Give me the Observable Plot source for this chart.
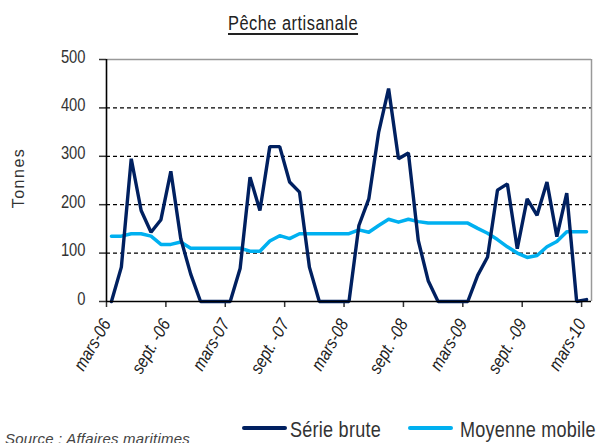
<!DOCTYPE html>
<html>
<head>
<meta charset="utf-8">
<script src="https://cdn.jsdelivr.net/npm/d3@7"></script>
<script src="https://cdn.jsdelivr.net/npm/@observablehq/plot@0.6"></script>
<style>
  html, body { margin: 0; padding: 0; background: #fff; }
  #wrap { position: relative; width: 601px; height: 443px; overflow: hidden;
          font-family: "Liberation Sans", Arial, sans-serif; color: #333; }
  .narrow { display: inline-block; transform: scaleX(0.82); transform-origin: left center; white-space: nowrap; }
  #title { position: absolute; left: 228px; top: 12px; font-size: 20px; letter-spacing: 0.6px;
           text-decoration: underline; text-underline-offset: 3px; color: #222; }
  #ylab { position: absolute; left: 19px; top: 178px; transform: translate(-50%, -50%) rotate(-90deg);
          font-size: 16px; letter-spacing: 1.5px; color: #333; white-space: nowrap; }
  .leg { position: absolute; top: 417px; font-size: 22px; color: #333; letter-spacing: 0.3px; }
  .sw { position: absolute; height: 4px; top: 426px; border-radius: 2px; }
  #src { position: absolute; left: 5px; top: 430px; font-size: 15px; font-style: italic; color: #444; white-space: nowrap; letter-spacing: 0.2px; }
  #chart { position: absolute; left: 0; top: 0; }
</style>
</head>
<body>
<div id="wrap">
  <div id="chart"></div>
  <div id="title" class="narrow">Pêche artisanale</div>
  <div id="ylab">Tonnes</div>
  <div class="sw" style="left:242px;width:45px;background:#002060"></div>
  <div class="leg narrow" style="left:290px">Série brute</div>
  <div class="sw" style="left:408px;width:45px;background:#00b0f0"></div>
  <div class="leg narrow" style="left:460px">Moyenne mobile</div>
  <div id="src">Source : Affaires maritimes</div>
</div>
<script>
// Monthly categories (mars-06 .. mars-10)
const months = [
  "mars-06","avr.-06","mai-06","juin-06","juil.-06","août-06","sept.-06","oct.-06","nov.-06","déc.-06","janv.-07","févr.-07",
  "mars-07","avr.-07","mai-07","juin-07","juil.-07","août-07","sept.-07","oct.-07","nov.-07","déc.-07","janv.-08","févr.-08",
  "mars-08","avr.-08","mai-08","juin-08","juil.-08","août-08","sept.-08","oct.-08","nov.-08","déc.-08","janv.-09","févr.-09",
  "mars-09","avr.-09","mai-09","juin-09","juil.-09","août-09","sept.-09","oct.-09","nov.-09","déc.-09","janv.-10","févr.-10",
  "mars-10"
];
// Série brute (tonnes)
const serieBrute = [
  0, 71, 295, 188, 143, 169, 269, 130, 57, 0, 0, 0,
  0, 68, 257, 188, 320, 320, 247, 226, 71, 0, 0, 0,
  0, 157, 212, 350, 440, 295, 307, 126, 43, 0, 0, 0,
  0, 54, 92, 230, 243, 109, 212, 178, 247, 134, 224, 0,
  4
];
// Moyenne mobile (tonnes)
const moyenneMobile = [
  135, 135, 140, 140, 135, 118, 118, 123, 110, 110, 110, 110,
  110, 110, 104, 104, 125, 136, 130, 140, 140, 140, 140, 140,
  140, 148, 143, 157, 170, 164, 170, 165, 162, 162, 162, 162,
  162, 151, 141, 128, 113, 100, 91, 95, 113, 124, 144, 144,
  144
];
// Axis tick labels (every 6 months)
const tickLabels = ["mars-06","sept. -06","mars-07","sept. -07","mars-08","sept. -08","mars-09","sept. -09","mars-10"];
const yTicks = [0, 100, 200, 300, 400, 500];
const gridValues = [100, 200, 300, 400];

const n = months.length;
const brute = serieBrute.map((v, i) => ({i, month: months[i], v}));
const mobile = moyenneMobile.map((v, i) => ({i, month: months[i], v}));
const tickPos = tickLabels.map(t => ({pos: months.indexOf(t.replace(". ", ".")) - 0.5, label: t}));

const chart = Plot.plot({
  width: 601,
  height: 443,
  marginTop: 59,
  marginBottom: 142,
  marginLeft: 106,
  marginRight: 10,
  style: {fontFamily: '"Liberation Sans", Arial, sans-serif', fontSize: "18px", color: "#333", background: "transparent"},
  x: {domain: [-0.5, n - 0.5], axis: null},
  y: {domain: [0, 500], axis: null},
  marks: [
    Plot.ruleY(gridValues, {stroke: "#000", strokeWidth: 1.3, strokeDasharray: "4,3"}),
    Plot.ruleY([500], {stroke: "#999", strokeWidth: 1.5}),
    Plot.ruleX([n - 0.5], {stroke: "#999", strokeWidth: 1.5}),
    Plot.axisY({ticks: yTicks, label: null, tickSize: 7, tickPadding: 14, fontSize: 18, tickFormat: d => String(d), strokeWidth: 1.5, fill: "#333"}),
    Plot.axisX({ticks: tickPos.map(d => d.pos), label: null, tickSize: 6, tickFormat: () => "", strokeWidth: 1.5}),
    Plot.line(mobile, {x: "i", y: "v", stroke: "#00b0f0", strokeWidth: 3.5, strokeLinejoin: "round"}),
    Plot.line(brute, {x: "i", y: "v", stroke: "#002060", strokeWidth: 3.4, strokeLinejoin: "miter"}),
    Plot.ruleX([-0.5], {stroke: "#000", strokeWidth: 1.6}),
    Plot.ruleY([0], {stroke: "#000", strokeWidth: 1.6}),
    Plot.text(tickPos, {x: "pos", text: "label", frameAnchor: "bottom", dy: 22, dx: 5, rotate: -60,
      textAnchor: "end", fontStyle: "italic", fontSize: 18, fill: "#222"})
  ]
});
document.getElementById("chart").appendChild(chart);

// condense text horizontally (narrow font look), with an optional vertical nudge
function condense(sel, k, nudge = 0) {
  sel.each(function() {
    const t = d3.select(this);
    const x = +t.attr("x") || 0, y = (+t.attr("y") || 0) + nudge;
    const tr = t.attr("transform") || "";
    t.attr("x", null).attr("y", null).attr("transform", `${tr} translate(${x},${y}) scale(${k},1)`);
  });
}
const svg = d3.select(chart);
condense(svg.selectAll("g[aria-label='y-axis tick label'] text"), 0.82, 3);
condense(svg.selectAll("g[aria-label='text'] text"), 0.85);
</script>
</body>
</html>
